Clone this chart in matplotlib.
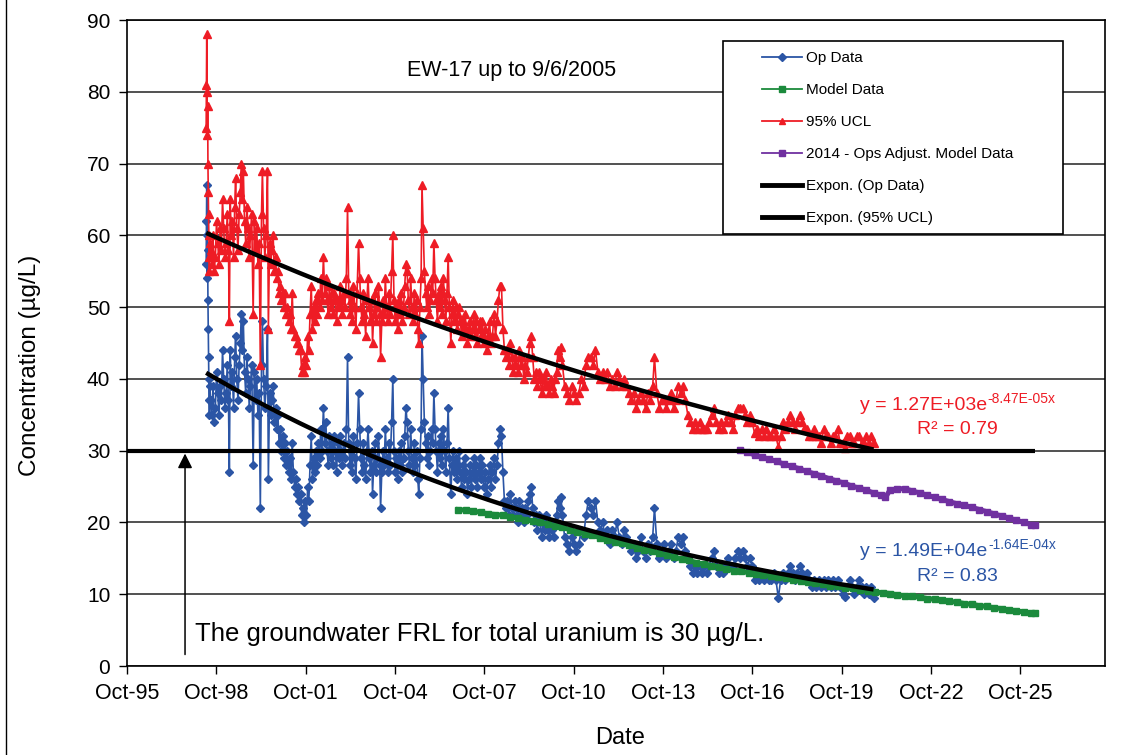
import numpy as np
import matplotlib
matplotlib.use("Agg")
import matplotlib.pyplot as plt
import matplotlib.dates as mdates
from matplotlib.lines import Line2D
from matplotlib.patches import Rectangle
from datetime import datetime

plt.rcParams['font.family'] = ['Liberation Sans', 'DejaVu Sans']

# EW-17 sampling dates (decimal years), operational data and 95% UCL
sample_year = [
    1998.48, 1998.49, 1998.50, 1998.51, 1998.52, 1998.53, 1998.54, 1998.55, 1998.56, 1998.57,
    1998.58, 1998.59, 1998.60, 1998.63, 1998.67, 1998.71, 1998.75, 1998.79, 1998.83, 1998.87,
    1998.91, 1998.95, 1998.99, 1999.03, 1999.07, 1999.11, 1999.15, 1999.19, 1999.23, 1999.26,
    1999.29, 1999.32, 1999.36, 1999.40, 1999.44, 1999.47, 1999.51, 1999.55, 1999.59, 1999.63,
    1999.66, 1999.70, 1999.73, 1999.77, 1999.81, 1999.85, 1999.89, 1999.93, 1999.97, 2000.01,
    2000.06, 2000.10, 2000.14, 2000.18, 2000.22, 2000.26, 2000.30, 2000.34, 2000.37, 2000.41,
    2000.45, 2000.50, 2000.54, 2000.57, 2000.61, 2000.65, 2000.69, 2000.73, 2000.77, 2000.81,
    2000.85, 2000.89, 2000.93, 2000.97, 2001.01, 2001.05, 2001.09, 2001.13, 2001.17, 2001.21,
    2001.25, 2001.29, 2001.33, 2001.37, 2001.41, 2001.45, 2001.49, 2001.53, 2001.57, 2001.61,
    2001.65, 2001.69, 2001.73, 2001.77, 2001.81, 2001.85, 2001.89, 2001.93, 2001.97, 2002.01,
    2002.05, 2002.09, 2002.13, 2002.17, 2002.21, 2002.25, 2002.29, 2002.33, 2002.37, 2002.42,
    2002.46, 2002.50, 2002.54, 2002.58, 2002.62, 2002.66, 2002.70, 2002.74, 2002.78, 2002.82,
    2002.86, 2002.90, 2002.94, 2002.98, 2003.02, 2003.06, 2003.10, 2003.14, 2003.19, 2003.23,
    2003.27, 2003.31, 2003.35, 2003.39, 2003.43, 2003.47, 2003.51, 2003.55, 2003.60, 2003.64,
    2003.68, 2003.72, 2003.76, 2003.80, 2003.84, 2003.88, 2003.92, 2003.96, 2004.00, 2004.04,
    2004.07, 2004.11, 2004.15, 2004.19, 2004.23, 2004.27, 2004.31, 2004.34, 2004.38, 2004.42,
    2004.46, 2004.50, 2004.54, 2004.58, 2004.62, 2004.66, 2004.71, 2004.75, 2004.79, 2004.83,
    2004.87, 2004.91, 2004.95, 2004.99, 2005.03, 2005.07, 2005.11, 2005.15, 2005.19, 2005.23,
    2005.27, 2005.31, 2005.35, 2005.39, 2005.43, 2005.47, 2005.51, 2005.55, 2005.59, 2005.62,
    2005.66, 2005.70, 2005.73, 2005.77, 2005.81, 2005.85, 2005.89, 2005.93, 2005.97, 2006.01,
    2006.05, 2006.09, 2006.13, 2006.17, 2006.21, 2006.25, 2006.29, 2006.33, 2006.37, 2006.41,
    2006.45, 2006.49, 2006.53, 2006.57, 2006.61, 2006.65, 2006.70, 2006.74, 2006.78, 2006.82,
    2006.86, 2006.90, 2006.94, 2006.98, 2007.02, 2007.06, 2007.10, 2007.14, 2007.18, 2007.22,
    2007.26, 2007.30, 2007.35, 2007.39, 2007.43, 2007.47, 2007.51, 2007.55, 2007.59, 2007.63,
    2007.67, 2007.71, 2007.76, 2007.80, 2007.85, 2007.90, 2007.95, 2008.00, 2008.05, 2008.10,
    2008.15, 2008.20, 2008.25, 2008.30, 2008.35, 2008.40, 2008.45, 2008.50, 2008.55, 2008.60,
    2008.65, 2008.70, 2008.75, 2008.80, 2008.85, 2008.90, 2008.95, 2009.00, 2009.05, 2009.10,
    2009.15, 2009.20, 2009.25, 2009.30, 2009.35, 2009.40, 2009.45, 2009.50, 2009.55, 2009.60,
    2009.65, 2009.70, 2009.75, 2009.80, 2009.85, 2009.90, 2009.95, 2010.00, 2010.05, 2010.10,
    2010.15, 2010.20, 2010.25, 2010.30, 2010.35, 2010.40, 2010.45, 2010.52, 2010.60, 2010.68,
    2010.76, 2010.84, 2010.92, 2011.00, 2011.08, 2011.16, 2011.24, 2011.32, 2011.40, 2011.48,
    2011.56, 2011.64, 2011.72, 2011.80, 2011.88, 2011.96, 2012.04, 2012.12, 2012.20, 2012.28,
    2012.36, 2012.44, 2012.52, 2012.60, 2012.68, 2012.76, 2012.84, 2012.92, 2013.00, 2013.08,
    2013.16, 2013.24, 2013.32, 2013.40, 2013.48, 2013.54, 2013.62, 2013.70, 2013.78, 2013.86,
    2013.94, 2014.02, 2014.10, 2014.18, 2014.26, 2014.34, 2014.42, 2014.50, 2014.58, 2014.66,
    2014.74, 2014.82, 2014.90, 2014.98, 2015.06, 2015.14, 2015.22, 2015.30, 2015.38, 2015.46,
    2015.54, 2015.62, 2015.70, 2015.78, 2015.86, 2015.94, 2016.02, 2016.10, 2016.18, 2016.26,
    2016.34, 2016.42, 2016.50, 2016.58, 2016.66, 2016.74, 2016.82, 2016.90, 2016.98, 2017.06,
    2017.14, 2017.22, 2017.30, 2017.38, 2017.46, 2017.54, 2017.62, 2017.70, 2017.78, 2017.86,
    2017.94, 2018.02, 2018.10, 2018.18, 2018.26, 2018.34, 2018.42, 2018.50, 2018.58, 2018.66,
    2018.74, 2018.82, 2018.90, 2018.98, 2019.06, 2019.14, 2019.22, 2019.30, 2019.38, 2019.46,
    2019.54, 2019.62, 2019.70, 2019.78, 2019.86, 2019.94, 2020.02, 2020.10, 2020.18, 2020.26,
    2020.34, 2020.42, 2020.50, 2020.58, 2020.66, 2020.74, 2020.82, 2020.90,
]

op_data = [
    56, 62, 67, 60, 54, 58, 51, 47, 43, 40,
    37, 35, 39, 37, 35, 39, 34, 36, 41, 38,
    35, 39, 37, 44, 40, 36, 38, 42, 37, 27,
    44, 39, 41, 36, 43, 46, 40, 37, 42, 45,
    49, 44, 48, 41, 38, 43, 40, 36, 39, 42,
    28, 41, 37, 40, 35, 38, 22, 42, 48, 40,
    36, 39, 47, 26, 38, 35, 37, 39, 34, 36,
    33, 35, 31, 33, 30, 32, 29, 31, 28, 30,
    27, 29, 26, 31, 27, 25, 26, 24, 25, 23,
    24, 21, 22, 20, 23, 21, 25, 23, 28, 32,
    26, 29, 27, 30, 28, 31, 29, 33, 30, 36,
    31, 34, 30, 28, 32, 29, 31, 28, 32, 30,
    27, 31, 29, 32, 30, 28, 31, 29, 33, 43,
    31, 28, 30, 27, 32, 29, 26, 31, 38, 33,
    29, 27, 31, 28, 26, 30, 33, 29, 27, 30,
    24, 28, 31, 27, 29, 32, 28, 22, 27, 30,
    28, 33, 29, 27, 31, 28, 34, 40, 30, 27,
    29, 26, 30, 28, 31, 27, 29, 32, 36, 34,
    30, 28, 33, 29, 27, 31, 28, 30, 26, 24,
    29, 33, 46, 40, 34, 31, 29, 32, 28, 30,
    33, 31, 38, 33, 30, 27, 31, 29, 32, 28,
    33, 30, 27, 31, 36, 29, 24, 28, 30, 27,
    29, 26, 28, 30, 27, 25, 28, 26, 29, 27,
    24, 26, 28, 25, 27, 29, 26, 28, 25, 27,
    29, 26, 28, 25, 27, 24, 26, 28, 25, 27,
    29, 26, 28, 31, 33, 32, 27, 23, 22, 23,
    21, 24, 22, 21, 23, 22, 20, 23, 21, 22,
    20, 22, 21, 23, 24, 25, 22, 20, 21, 19,
    21, 20, 18, 20, 19, 21, 19, 18, 20, 19,
    18, 20, 21, 23, 22, 23.5, 21, 18, 17, 16,
    18, 17, 16, 17, 19, 18, 21, 23, 22, 21,
    23, 20, 19, 20, 18, 19, 17, 19, 18, 20,
    18, 17, 19, 18, 17, 16, 17, 15, 16, 18,
    16, 15, 17, 16, 18, 22, 17, 15, 16, 17,
    15, 16, 17, 15, 16, 18, 17, 18, 16, 15,
    14, 13, 14, 13, 14, 13, 14, 13, 14, 15,
    16, 14, 13, 14, 13, 14, 15, 14, 14, 15,
    16, 15, 16, 15, 14, 15, 14, 12, 13, 12,
    13, 12, 13, 12, 12, 13, 12, 9.5, 12, 13,
    12, 13, 14, 13, 12, 13, 14, 13, 12, 13,
    12, 11, 12, 11, 12, 11, 12, 11, 12, 11,
    12, 11, 12, 11, 10, 9.6, 11, 12, 11, 10,
    11, 12, 11, 10, 11, 10, 11, 9.5,
]

ucl_data = [
    75, 81, 88, 80, 74, 78, 70, 66, 63, 60,
    57, 55, 59, 58, 56, 60, 55, 57, 62, 59,
    56, 61, 58, 65, 61, 57, 59, 63, 58, 48,
    65, 60, 62, 57, 64, 68, 61, 58, 63, 66,
    70, 65, 69, 62, 59, 64, 61, 57, 60, 63,
    49, 62, 58, 61, 56, 59, 42, 63, 69, 61,
    57, 60, 69, 47, 59, 56, 58, 60, 55, 57,
    54, 55, 52, 53, 51, 52, 50, 52, 49, 50,
    48, 49, 47, 52, 47, 46, 46, 45, 45, 44,
    44, 41, 42, 41, 43, 42, 46, 44, 49, 53,
    47, 50, 48, 51, 49, 52, 50, 54, 51, 57,
    52, 54, 51, 49, 53, 50, 52, 49, 52, 51,
    48, 51, 50, 53, 51, 49, 52, 50, 54, 64,
    52, 49, 51, 48, 53, 50, 47, 52, 59, 54,
    50, 48, 52, 49, 46, 51, 54, 50, 48, 51,
    45, 49, 52, 48, 50, 53, 49, 43, 48, 51,
    49, 54, 50, 48, 52, 49, 55, 60, 51, 48,
    50, 47, 51, 49, 52, 48, 50, 53, 56, 55,
    51, 49, 54, 50, 48, 52, 49, 51, 47, 45,
    50, 54, 67, 61, 55, 52, 50, 53, 49, 51,
    54, 52, 59, 54, 51, 48, 52, 50, 53, 49,
    54, 51, 48, 52, 57, 50, 45, 49, 51, 48,
    50, 47, 49, 50, 48, 46, 48, 47, 49, 47,
    45, 47, 48, 46, 47, 49, 46, 48, 45, 47,
    48, 46, 48, 45, 47, 44, 46, 48, 45, 46,
    49, 46, 48, 51, 53, 53, 47, 44, 43, 44,
    42, 45, 43, 41, 43, 42, 41, 44, 42, 43,
    40, 42, 41, 43, 45, 46, 43, 40, 41, 39,
    41, 40, 38, 40, 39, 41, 39, 38, 40, 39,
    38, 40, 41, 44, 43, 44.4, 42, 39, 38, 37,
    39, 38, 37, 38, 40, 39, 42, 43, 43, 42,
    44, 41, 40, 41, 40, 41, 39, 40, 39, 41,
    40, 39, 40, 39, 38, 37, 38, 36, 37, 38,
    37, 36, 38, 37, 39, 43, 38, 36, 37, 37,
    36, 37, 38, 36, 37, 39, 38, 39, 37, 35,
    34, 33, 34, 33, 34, 33, 33, 33, 34, 35,
    36, 34, 33, 34, 33, 34, 35, 34, 33, 35,
    36, 36, 36, 35, 34, 35, 34, 32.5, 33, 32,
    33, 32, 33, 32, 32, 33, 32, 30.5, 32, 34,
    33, 34, 35, 34, 33, 34, 35, 34, 33, 33,
    32, 32, 33, 32, 32, 31, 33, 32, 32, 31,
    32, 32, 33, 31, 31, 30.4, 32, 32, 31, 31,
    32, 32, 31, 31, 32, 31, 32, 31,
]

# groundwater model prediction, quarterly
model_year = [
    2006.95, 2007.20, 2007.45, 2007.70, 2007.95, 2008.20, 2008.45, 2008.70, 2008.95, 2009.20,
    2009.45, 2009.70, 2009.95, 2010.20, 2010.45, 2010.70, 2010.95, 2011.20, 2011.45, 2011.70,
    2011.95, 2012.20, 2012.45, 2012.70, 2012.95, 2013.20, 2013.45, 2013.70, 2013.95, 2014.20,
    2014.45, 2014.70, 2014.95, 2015.20, 2015.45, 2015.70, 2015.95, 2016.20, 2016.45, 2016.70,
    2016.95, 2017.20, 2017.45, 2017.70, 2017.95, 2018.20, 2018.45, 2018.70, 2018.95, 2019.20,
    2019.45, 2019.70, 2019.95, 2020.20, 2020.45, 2020.70, 2020.95, 2021.20, 2021.45, 2021.70,
    2021.95, 2022.20, 2022.45, 2022.70, 2022.95, 2023.20, 2023.45, 2023.70, 2023.95, 2024.20,
    2024.45, 2024.70, 2024.95, 2025.20, 2025.45, 2025.70, 2025.95, 2026.20, 2026.34,
]
model_data = [
    21.8, 21.7, 21.6, 21.4, 21.2, 21.1, 21.0, 20.8, 20.6, 20.4,
    20.2, 20.0, 19.8, 19.5, 19.3, 19.0, 18.7, 18.4, 18.2, 17.9,
    17.6, 17.3, 17.1, 16.8, 16.5, 16.2, 16.0, 15.7, 15.4, 15.2,
    14.9, 14.7, 14.4, 14.2, 14.0, 13.8, 13.5, 13.3, 13.2, 13.0,
    12.8, 12.7, 12.5, 12.4, 12.2, 12.0, 11.9, 11.7, 11.5, 11.4,
    11.2, 11.1, 10.9, 10.8, 10.6, 10.5, 10.3, 10.2, 10.1, 9.9,
    9.8, 9.7, 9.6, 9.4, 9.3, 9.2, 9.0, 8.9, 8.7, 8.6,
    8.4, 8.3, 8.1, 8.0, 7.8, 7.7, 7.5, 7.4, 7.35,
]

# 2014 model re-run adjusted to operational data
adj_year = [
    2016.40, 2016.65, 2016.90, 2017.15, 2017.40, 2017.65, 2017.90, 2018.15, 2018.40, 2018.65,
    2018.90, 2019.15, 2019.40, 2019.65, 2019.90, 2020.15, 2020.40, 2020.65, 2020.90, 2021.15,
    2021.30, 2021.45, 2021.70, 2021.95, 2022.20, 2022.45, 2022.70, 2022.95, 2023.20, 2023.45,
    2023.70, 2023.95, 2024.20, 2024.45, 2024.70, 2024.95, 2025.20, 2025.45, 2025.70, 2025.95,
    2026.20, 2026.34,
]
adj_data = [
    30.1, 29.8, 29.4, 29.1, 28.8, 28.5, 28.1, 27.8, 27.5, 27.1,
    26.8, 26.5, 26.1, 25.8, 25.5, 25.1, 24.8, 24.5, 24.1, 23.8,
    23.5, 24.5, 24.7, 24.7, 24.4, 24.1, 23.8, 23.5, 23.2, 22.9,
    22.6, 22.4, 22.1, 21.8, 21.5, 21.2, 20.9, 20.6, 20.3, 20.0,
    19.7, 19.6,
]

# exponential trendlines y = a*exp(b*x), x = spreadsheet date serial
op_fit = (1.49e4, -1.64e-4, 0.83)
ucl_fit = (1.27e3, -8.47e-5, 0.79)

frl = 30
frl_end = 2026.34

xtick_labels = ['Oct-95', 'Oct-98', 'Oct-01', 'Oct-04', 'Oct-07', 'Oct-10',
                'Oct-13', 'Oct-16', 'Oct-19', 'Oct-22', 'Oct-25']

EXCEL_OFFSET = 25569  # spreadsheet serial of 1970-01-01

BLUE = '#2b55a5'
RED = '#ee1c25'
GREEN = '#1b8a3c'
PURPLE = '#7030a0'


def year_to_num(years):
    out = []
    for y in years:
        yr = int(y)
        a = mdates.date2num(datetime(yr, 1, 1))
        b = mdates.date2num(datetime(yr + 1, 1, 1))
        out.append(a + (y - yr) * (b - a))
    return np.array(out)


t_op = year_to_num(sample_year)
t_model = year_to_num(model_year)
t_adj = year_to_num(adj_year)

W, H = 1135, 755
fig = plt.figure(figsize=(W / 100, H / 100), dpi=100)
ax = fig.add_axes([127 / W, 89 / H, 978 / W, 646 / H])

ax.plot(t_op, op_data, color=BLUE, lw=1.2, marker='D', ms=3.8, zorder=3)
ax.plot(t_model, model_data, color=GREEN, lw=3.6, marker='s', ms=4, zorder=3)
ax.plot(t_op, ucl_data, color=RED, lw=1.2, marker='^', ms=5.5, zorder=4)
ax.plot(t_adj, adj_data, color=PURPLE, lw=3.6, marker='s', ms=4, zorder=4)

# trendlines over the span of the operational record
tt = np.linspace(t_op[0], t_op[-1], 200)
for a, b, _ in (op_fit, ucl_fit):
    ax.plot(tt, a * np.exp(b * (tt + EXCEL_OFFSET)), color='black', lw=3.2,
            solid_capstyle='butt', zorder=6)

# FRL line
ax.plot([35000 - EXCEL_OFFSET, year_to_num([frl_end])[0]], [frl, frl],
        color='black', lw=3, solid_capstyle='butt', zorder=5)

ax.set_xlim(35000 - EXCEL_OFFSET, 47000 - EXCEL_OFFSET)
ax.set_ylim(0, 90)
ax.set_xticks([35000 - EXCEL_OFFSET + 1096 * k for k in range(len(xtick_labels))])
ax.set_xticklabels(xtick_labels)
ax.set_yticks(range(0, 91, 10))
ax.tick_params(axis='both', direction='out', length=6, width=1, pad=6)
ax.tick_params(axis='x', labelsize=15.5)
ax.tick_params(axis='y', labelsize=15)
ax.yaxis.grid(True, color='#222222', lw=1.1)
ax.set_axisbelow(True)
for s in ax.spines.values():
    s.set_linewidth(1.2)

ax.text(0.393, 0.922, 'EW-17 up to 9/6/2005', transform=ax.transAxes,
        ha='center', va='center', fontsize=15.5)


def trend_label(x, y, base, sup, r2_x, r2_y, r2, color):
    t = ax.text(x, y, base, transform=ax.transAxes, ha='left', va='center',
                fontsize=14, color=color)
    ax.annotate(sup, xy=(1, 1), xycoords=t, xytext=(0.5, 3), textcoords='offset points',
                ha='left', va='top', fontsize=10, color=color)
    ax.text(r2_x, r2_y, 'R² = %.2f' % r2, transform=ax.transAxes, ha='center',
            va='center', fontsize=14, color=color)


trend_label(0.7495, 0.404, 'y = 1.27E+03e', '-8.47E-05x', 0.849, 0.366, ucl_fit[2], RED)
trend_label(0.7495, 0.178, 'y = 1.49E+04e', '-1.64E-04x', 0.849, 0.139, op_fit[2], BLUE)

ax.text(0.0695, 0.049, 'The groundwater FRL for total uranium is 30 µg/L.',
        transform=ax.transAxes, ha='left', va='center', fontsize=18.5)
arrow_x = year_to_num([1997.77])[0]
ax.annotate('', xy=(arrow_x, 29.6), xytext=(arrow_x, 1.6),
            arrowprops=dict(arrowstyle='-|>', color='black', lw=1.1,
                            mutation_scale=22, shrinkA=0, shrinkB=0))

fig.text(30 / W, 1 - 365 / H, 'Concentration (µg/L)', rotation=90,
         ha='center', va='center', fontsize=17.5)
fig.text(620 / W, 1 - 738 / H, 'Date', ha='center', va='center', fontsize=17)

# legend box
fig.add_artist(Rectangle((723 / W, 1 - 234 / H), 340 / W, 193 / H, transform=fig.transFigure,
                         facecolor='white', edgecolor='black', lw=1.2, zorder=4))
handles = [
    Line2D([], [], color=BLUE, lw=1.3, marker='D', ms=4),
    Line2D([], [], color=GREEN, lw=1.3, marker='s', ms=4),
    Line2D([], [], color=RED, lw=1.3, marker='^', ms=5),
    Line2D([], [], color=PURPLE, lw=1.3, marker='s', ms=4),
    Line2D([], [], color='black', lw=3.5),
    Line2D([], [], color='black', lw=3.5),
]
labels = ['Op Data', 'Model Data', '95% UCL', '2014 - Ops Adjust. Model Data',
          'Expon. (Op Data)', 'Expon. (95% UCL)']
leg = fig.legend(handles, labels, loc='upper left', bbox_to_anchor=(762 / W, 1 - 51 / H),
                 frameon=False, fontsize=11, handlelength=2.6, handletextpad=0.27,
                 labelspacing=1.18, borderpad=0, borderaxespad=0)
leg.set_zorder(5)
fig.add_artist(Line2D([6 / W, 6 / W], [0, 1], transform=fig.transFigure, color='black', lw=1))

fig.savefig('out.png', dpi=100)
